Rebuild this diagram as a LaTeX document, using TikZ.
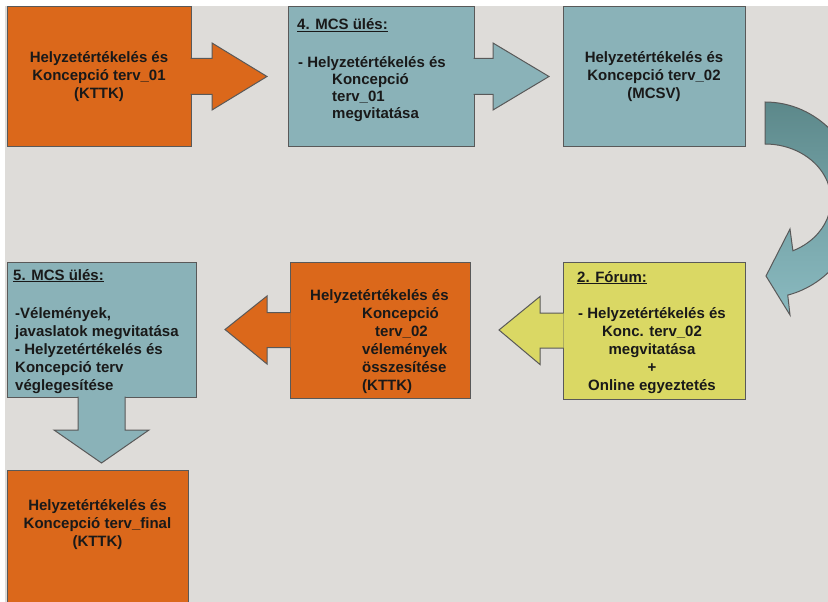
\documentclass[tikz,border=0pt]{standalone}
\usepackage{fontspec}
\setmainfont{Liberation Sans}
\usetikzlibrary{calc}
\definecolor{bggray}{RGB}{222,220,217}
\definecolor{orangebox}{RGB}{219,104,27}
\definecolor{tealbox}{RGB}{138,178,184}
\definecolor{yellowbox}{RGB}{218,216,100}
\definecolor{tealdark}{RGB}{92,136,138}
\definecolor{teallight}{RGB}{138,186,192}
\tikzset{
  box/.style={draw=black!65, line width=1pt, inner sep=0pt, outer sep=0pt,
    font=\fontsize{15}{18}\selectfont\bfseries, text=black!90, align=center},
  txt/.style={inner sep=0pt, font=\fontsize{15}{18}\selectfont\bfseries, text=black!90},
  blockarrow/.style={draw=black!65, line width=1pt}
}
\begin{document}
\begin{tikzpicture}[x=1pt, y=-1pt]
        \useasboundingbox (0,0) rectangle (828,602);
        \clip (0,0) rectangle (828,602);
        \fill[white] (0,0) rectangle (828,602);
        \fill[bggray] (5,6) rectangle (828,602);

        % upper row
        \node[box, fill=orangebox, minimum width=184pt, minimum height=139pt] (kttk1) at (99,76.5)
            {Helyzetértékelés és\\Koncepció terv\_01\\(KTTK)};
        \node[box, fill=tealbox, minimum width=186pt, minimum height=139pt] (mcs4) at (381,76.5) {};
        \node[box, fill=tealbox, minimum width=182pt, minimum height=139pt] (mcsv) at (654,76.5)
            {Helyzetértékelés és\\Koncepció terv\_02\\(MCSV)};

        % lower row
        \node[box, fill=yellowbox, minimum width=182pt, minimum height=137pt] (forum2) at (654,330.5) {};
        \node[box, fill=orangebox, minimum width=180pt, minimum height=136pt] (kttk2) at (380,330) {};
        \node[box, fill=tealbox, minimum width=189pt, minimum height=135pt] (mcs5) at (101.5,329.5) {};
        \node[box, fill=orangebox, minimum width=181pt, minimum height=140pt] (final) at (97.5,540) {};

        % texts
        \node[txt, anchor=base west] (mcs4head) at (297,30) {\underline{4. MCS ülés:}};
        \node[txt, anchor=north west, align=left, font=\fontsize{15}{17}\selectfont\bfseries] (mcs4body) at (298,55.4)
            {\strut- Helyzetértékelés és\\\hspace*{34pt}Koncepció\\\hspace*{34pt}terv\_01\\\hspace*{34pt}megvitatása};
        \node[txt, anchor=base west] (forum2head) at (577,282) {\underline{2. Fórum:}};
        \node[txt, anchor=north, align=center] (forum2body) at (652,305.4)
            {\strut- Helyzetértékelés és\\Konc. terv\_02\\megvitatása\\+\\Online egyeztetés};
        \node[txt, anchor=north west, align=left] (kttk2body) at (310,287.4)
            {\strut Helyzetértékelés és\\\hspace*{52pt}Koncepció\\\hspace*{65pt}terv\_02\\\hspace*{52pt}vélemények\\\hspace*{52pt}összesítése\\\hspace*{52pt}(KTTK)};
        \node[txt, anchor=base west] (mcs5head) at (13,280) {\underline{5. MCS ülés:}};
        \node[txt, anchor=north west, align=left] (mcs5body) at (15,305.4)
            {\strut-Vélemények,\\javaslatok megvitatása\\- Helyzetértékelés és\\Koncepció terv\\véglegesítése};
        \node[txt, align=center] (finalbody) at (97.5,525)
            {Helyzetértékelés és\\Koncepció terv\_final\\(KTTK)};

        % block arrows
        \filldraw[blockarrow, fill=orangebox] ($(kttk1.east)+(-0.5,-18)$) -- ++(21.5,0) -- ++(0,-15.5)
            -- ($(mcs4.west)+(-21,0)$) -- ($(kttk1.east)+(21,33.5)$) -- ++(0,-15.5) -- ++(-21.5,0);
        \filldraw[blockarrow, fill=tealbox] ($(mcs4.east)+(-0.5,-18)$) -- ++(19.5,0) -- ++(0,-15.5)
            -- ($(mcsv.west)+(-14,0)$) -- ($(mcs4.east)+(19,33.5)$) -- ++(0,-15.5) -- ++(-19.5,0);
        \filldraw[blockarrow, fill=yellowbox] ($(forum2.west)+(0.5,-17.5)$) -- ++(-23.5,0) -- ++(0,-16.5)
            -- ($(kttk2.east)+(29,0)$) -- ($(forum2.west)+(-23,34)$) -- ++(0,-16.5) -- ++(23.5,0);
        \filldraw[blockarrow, fill=orangebox] ($(kttk2.west)+(0.5,-17.5)$) -- ++(-23.5,0) -- ++(0,-16.5)
            -- ($(mcs5.east)+(29,0)$) -- ($(kttk2.west)+(-23,34)$) -- ++(0,-16.5) -- ++(23.5,0);
        \filldraw[blockarrow, fill=tealbox] ($(mcs5.south)+(-23.5,-0.5)$) -- ++(0,33.5) -- ++(-24,0)
            -- ($(mcs5.south |- final.north)+(0,-7)$) -- ($(mcs5.south)+(47.5,33)$) -- ++(-24,0) -- ++(0,-33.5);

        % curved arrow down to the forum
        \coordinate (bend) at ($(mcsv.east)+(20,123.5)$);
        \shadedraw[blockarrow, top color=tealdark, bottom color=teallight, middle color=tealdark!45!teallight]
            ($(bend)+(0,-98)$) arc[start angle=-90, end angle=76, x radius=94, y radius=98]
            -- ($(bend)+(25,115)$) -- ($(bend)+(1,76)$) -- ($(bend)+(25,29)$)
            -- ($(bend)+({66*cos(65)},{56*sin(65)})$) arc[start angle=65, end angle=-90, x radius=66, y radius=56]
            -- cycle;
\end{tikzpicture}
\end{document}
